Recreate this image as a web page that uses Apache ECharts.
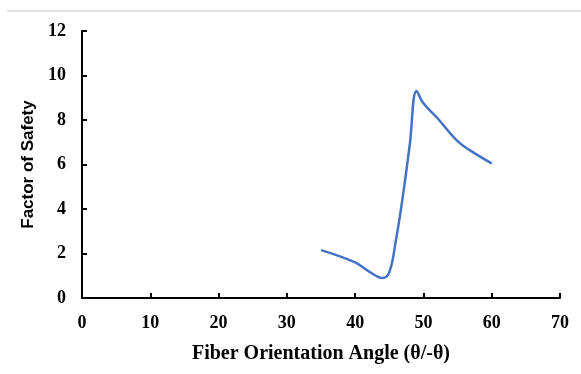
<!DOCTYPE html>
<html>
<head>
<meta charset="utf-8">
<script src="https://cdn.jsdelivr.net/npm/echarts@6/dist/echarts.min.js"></script>
<style>
  html, body { margin: 0; padding: 0; background: #fff; }
  #main { width: 581px; height: 374px; }
</style>
</head>
<body>
<div id="main"></div>
<script type="text/javascript">
    // fiber angle (deg) vs factor of safety
    var angles = [35, 40, 42, 44, 45, 46, 47, 48, 49, 50, 52, 55, 57, 60];
    var safety = [2.15, 1.6, 1.2, 0.9, 1.15, 2.65, 4.6, 6.9, 9.3, 8.75, 8.1, 7.05, 6.6, 6.05];
    var xTicks = [0, 10, 20, 30, 40, 50, 60, 70];
    var yTicks = [0, 2, 4, 6, 8, 10, 12];

    var pts = [];
    for (var i = 0; i < angles.length; i++) {
        pts.push([angles[i], safety[i]]);
    }

    var labelFont = {
        fontFamily: 'Liberation Serif',
        fontWeight: 'bold',
        fontSize: 18,
        color: '#000'
    };

    var myChart = echarts.init(document.getElementById('main'));
    var option = {
        animation: false,
        grid: {
            left: 82,
            right: 21,
            top: 31,
            bottom: 76
        },
        xAxis: {
            type: 'value',
            min: xTicks[0],
            max: xTicks[xTicks.length - 1],
            interval: 10,
            name: 'Fiber Orientation Angle (θ/-θ)',
            nameLocation: 'middle',
            nameGap: 46,
            nameTextStyle: {
                fontFamily: 'Liberation Serif',
                fontWeight: 'bold',
                fontSize: 20,
                color: '#000'
            },
            axisLine: { lineStyle: { color: '#000', width: 2 } },
            axisTick: { inside: true, length: 5, lineStyle: { color: '#000', width: 2 } },
            axisLabel: Object.assign({ margin: 16 }, labelFont),
            splitLine: { show: false }
        },
        yAxis: {
            type: 'value',
            min: yTicks[0],
            max: yTicks[yTicks.length - 1],
            interval: 2,
            name: 'Factor of Safety',
            nameLocation: 'middle',
            nameGap: 43,
            nameTextStyle: {
                fontFamily: 'Liberation Sans',
                fontWeight: 'bold',
                fontSize: 17,
                color: '#000'
            },
            axisLine: { show: true, lineStyle: { color: '#000', width: 2 } },
            axisTick: { show: true, inside: true, length: 5, lineStyle: { color: '#000', width: 2 } },
            axisLabel: Object.assign({ margin: 16 }, labelFont),
            splitLine: { show: false }
        },
        graphic: [{
            type: 'line',
            shape: { x1: 7, y1: 11, x2: 581, y2: 11 },
            style: { stroke: '#d9d9d9', lineWidth: 1.5 }
        }],
        series: [{
            type: 'line',
            data: pts,
            smooth: 0.4,
            showSymbol: false,
            lineStyle: { color: '#4472C4', width: 2.5 }
        }]
    };
    myChart.setOption(option);
</script>
</body>
</html>
